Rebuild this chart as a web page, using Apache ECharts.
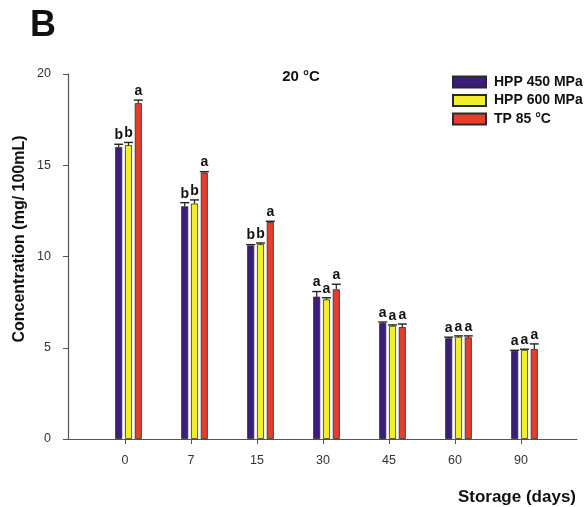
<!DOCTYPE html>
<html>
<head>
<meta charset="utf-8">
<script src="https://cdn.jsdelivr.net/npm/echarts@6/dist/echarts.min.js"></script>
<style>
  html, body { margin: 0; padding: 0; background: #fff; }
  #chart { width: 585px; height: 507px; }
</style>
</head>
<body>
<div id="chart"></div>
<script>
// Storage days (x categories)
const days = ['0', '7', '15', '30', '45', '60', '90'];
const seriesNames = ['HPP 450 MPa', 'HPP 600 MPa', 'TP 85 °C'];

// Mean concentration (mg/100mL) per treatment
const hpp450 = [16.0, 12.75, 10.6, 7.8, 6.35, 5.52, 4.82];
const hpp600 = [16.1, 12.9, 10.68, 7.65, 6.2, 5.6, 4.88];
const tp85   = [18.4, 14.6, 11.88, 8.2, 6.13, 5.57, 4.93];

// Standard deviations (upper error bars)
const hpp450Err = [0.15, 0.2, 0.05, 0.28, 0.06, 0.06, 0.04];
const hpp600Err = [0.15, 0.2, 0.06, 0.09, 0.05, 0.05, 0.04];
const tp85Err   = [0.17, 0.05, 0.05, 0.28, 0.17, 0.08, 0.28];

// Significance letters
const hpp450Sig = ['b', 'b', 'b', 'a', 'a', 'a', 'a'];
const hpp600Sig = ['b', 'b', 'b', 'a', 'a', 'a', 'a'];
const tp85Sig   = ['a', 'a', 'a', 'a', 'a', 'a', 'a'];

// Y axis ticks
const yMin = 0, yMax = 20, yStep = 5;

const means = [hpp450, hpp600, tp85];
const errs = [hpp450Err, hpp600Err, tp85Err];
const sigs = [hpp450Sig, hpp600Sig, tp85Sig];
const colors = ['#3b1e7a', '#f3ee2c', '#e43f2a'];

const FONT = '"Liberation Sans", Arial, sans-serif';
const BAR_W = 7;
const BAR_GAP_PX = 2.8;
const STEP = BAR_W + BAR_GAP_PX;

const chart = echarts.init(document.getElementById('chart'), null, { renderer: 'canvas' });

const series = [];
means.forEach((vals, s) => {
  series.push({
    name: seriesNames[s],
    type: 'bar',
    xAxisIndex: 2,
    yAxisIndex: 2,
    data: vals,
    barWidth: BAR_W,
    barGap: (BAR_GAP_PX / BAR_W * 100) + '%',
    itemStyle: { color: colors[s], borderColor: '#2a2a2a', borderWidth: 0.8 },
    emphasis: { disabled: true },
    z: 2
  });
});

// Upper error bars with their significance letters
means.forEach((vals, s) => {
  series.push({
    type: 'custom',
    xAxisIndex: 2,
    yAxisIndex: 2,
    silent: true,
    z: 3,
    data: vals.map((v, i) => [i, v, v + errs[s][i]]),
    renderItem: function (params, api) {
      const i = api.value(0);
      const dx = (s - 1) * STEP;
      const top = api.coord([i, api.value(1)]);
      const cap = api.coord([i, api.value(2)]);
      const x = top[0] + dx;
      return {
        type: 'group',
        children: [
          { type: 'line', shape: { x1: x, y1: top[1], x2: x, y2: cap[1] },
            style: { stroke: '#222', lineWidth: 1.2 } },
          { type: 'line', shape: { x1: x - 4.5, y1: cap[1], x2: x + 4.5, y2: cap[1] },
            style: { stroke: '#222', lineWidth: 1.4 } },
          { type: 'text', x: x, y: cap[1] - 2,
            style: { text: sigs[s][params.dataIndex], fill: '#111',
              font: 'bold 14px ' + FONT, align: 'center', verticalAlign: 'bottom' } }
        ]
      };
    }
  });
});

const option = {
  animation: false,
  backgroundColor: '#ffffff',
  grid: [
    { left: 68, right: 8, top: 74, bottom: 68 },     // frame with axis lines
    { left: 92, width: 462, top: 74, bottom: 68 },   // category ticks and labels
    { left: 95.5, width: 462, top: 74, bottom: 68 }  // bars
  ],
  xAxis: [
    { gridIndex: 0, type: 'value', min: 0, max: 1,
      axisLine: { show: true, onZero: false, lineStyle: { color: '#555', width: 1.2 } },
      axisTick: { show: false }, axisLabel: { show: false }, splitLine: { show: false } },
    { gridIndex: 1, type: 'category', data: days,
      axisLine: { show: false },
      axisTick: { show: true, alignWithLabel: true, length: 5, lineStyle: { color: '#555' } },
      axisLabel: { color: '#333', fontSize: 12.5, fontFamily: FONT, margin: 15 },
      splitLine: { show: false } },
    { gridIndex: 2, type: 'category', data: days, show: false }
  ],
  yAxis: [
    { gridIndex: 0, type: 'value', min: yMin, max: yMax, interval: yStep,
      axisLine: { show: true, lineStyle: { color: '#555', width: 1.2 } },
      axisTick: { show: true, length: 5, lineStyle: { color: '#555' } },
      axisLabel: { color: '#333', fontSize: 12.5, fontFamily: FONT, margin: 17 },
      splitLine: { show: false } },
    { gridIndex: 1, type: 'value', min: yMin, max: yMax, show: false },
    { gridIndex: 2, type: 'value', min: yMin, max: yMax, show: false }
  ],
  legend: {
    orient: 'vertical',
    left: 447,
    top: 70,
    itemWidth: 33,
    itemHeight: 11,
    itemGap: 4.5,
    icon: 'rect',
    data: seriesNames,
    textStyle: { color: '#111', fontWeight: 'bold', fontSize: 14, fontFamily: FONT, padding: [0, 0, 0, 3] },
    selectedMode: false
  },
  graphic: [
    { type: 'text', left: 30, top: 8,
      style: { text: 'B', font: 'bold 36px ' + FONT, fill: '#111' } },
    { type: 'text', x: 301, y: 77,
      style: { text: '20 °C', font: 'bold 15px ' + FONT, fill: '#111', align: 'center', verticalAlign: 'middle' } },
    { type: 'text', x: 20, y: 239, rotation: Math.PI / 2,
      style: { text: 'Concentration (mg/ 100mL)', font: 'bold 16px ' + FONT, fill: '#111', align: 'center', verticalAlign: 'middle' } },
    { type: 'text', x: 576, y: 497,
      style: { text: 'Storage (days)', font: 'bold 17px ' + FONT, fill: '#111', align: 'right', verticalAlign: 'middle' } }
  ],
  series: series
};

chart.setOption(option);
</script>
</body>
</html>
